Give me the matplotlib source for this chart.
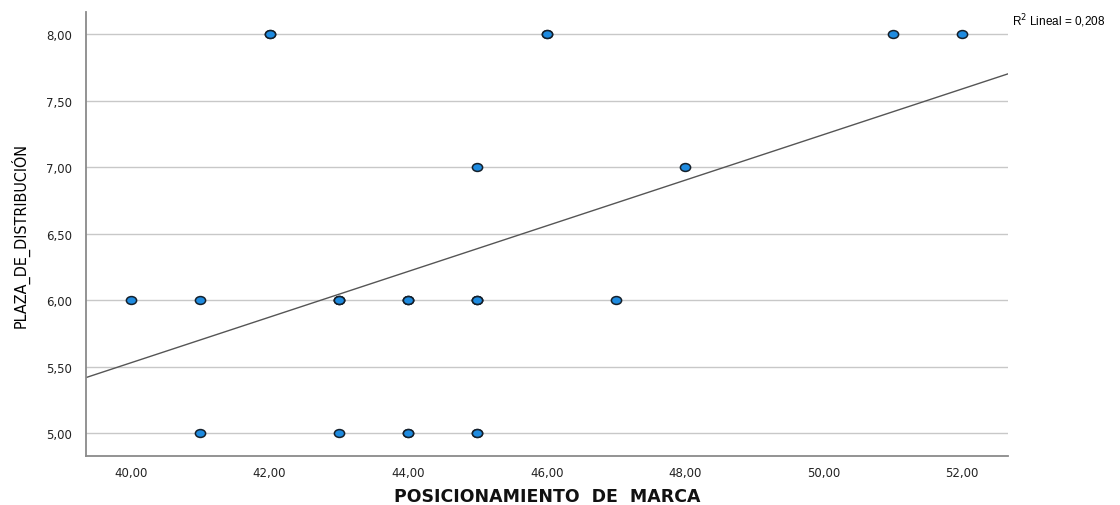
import numpy as np
import matplotlib
matplotlib.use("Agg")
import matplotlib.pyplot as plt
from matplotlib.markers import MarkerStyle
from matplotlib.transforms import Affine2D

# observations (repeated cases appear as overlapping markers)
posicionamiento = [40, 41, 41, 42, 42, 43, 43, 43, 43, 44, 44, 44, 44, 44,
                   45, 45, 45, 45, 45, 45, 46, 46, 47, 48, 51, 52]
plaza = [6, 6, 5, 8, 8, 6, 6, 6, 5, 6, 6, 6, 5, 5,
         7, 6, 6, 6, 5, 5, 8, 8, 6, 7, 8, 8]

x_ticks = [40, 42, 44, 46, 48, 50, 52]
y_ticks = [5.0, 5.5, 6.0, 6.5, 7.0, 7.5, 8.0]
r2_text = "R$^2$ Lineal = 0,208"

plt.rcParams["font.family"] = ["DejaVu Sans"]

fig = plt.figure(figsize=(11.2, 5.06), dpi=100)
ax = fig.add_axes([0.0768, 0.0968, 0.8232, 0.877])

x = np.array(posicionamiento, dtype=float)
y = np.array(plaza, dtype=float)

xmin, xmax = 39.35, 52.66
ax.set_xlim(xmin, xmax)
ax.set_ylim(4.827, 8.165)

# least squares line over the full x range
slope, intercept = np.polyfit(x, y, 1)
xs = np.array([xmin, xmax])
ax.plot(xs, intercept + slope * xs, color="#555555", linewidth=1.0, zorder=2)

oval = MarkerStyle("o", transform=Affine2D().scale(1.3, 1.0))
ax.scatter(x, y, marker=oval, s=32, facecolor="#1e8be0", edgecolor="#15202b",
           linewidth=1.1, zorder=3)

ax.set_xticks(x_ticks)
ax.set_yticks(y_ticks)
ax.set_xticklabels([f"{v:.2f}".replace(".", ",") for v in x_ticks])
ax.set_yticklabels([f"{v:.2f}".replace(".", ",") for v in y_ticks])
ax.tick_params(length=0, labelsize=8.5, colors="#222222")
ax.tick_params(axis="x", pad=7)
ax.tick_params(axis="y", pad=10)

ax.yaxis.grid(True, color="#c8c8c8", linewidth=1.0)
ax.set_axisbelow(True)
for side in ("top", "right"):
    ax.spines[side].set_visible(False)
for side in ("left", "bottom"):
    ax.spines[side].set_color("#8a8a8a")
    ax.spines[side].set_linewidth(1.3)

ax.set_xlabel("POSICIONAMIENTO  DE  MARCA", fontsize=12.5, fontweight="bold",
              color="#111111", labelpad=6)
ax.set_ylabel("PLAZA_DE_DISTRIBUCIÓN", fontsize=11.5, fontstretch="condensed",
              labelpad=12)

fig.text(0.904, 0.958, r2_text, fontsize=8.5, ha="left", va="center",
         family="Liberation Sans")

fig.savefig("out.png", dpi=100)
